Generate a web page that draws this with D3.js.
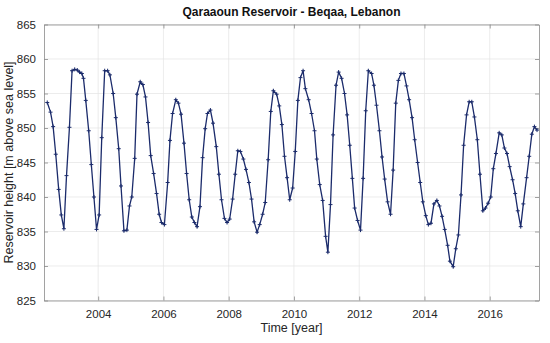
<!DOCTYPE html>
<html>
<head>
<meta charset="utf-8">
<script src="https://cdn.jsdelivr.net/npm/d3@7"></script>
<style>
  body { margin: 0; background: #fff; }
  svg { display: block; font-family: "Liberation Sans", Arial, Helvetica, sans-serif; }
  .tick text { fill: #262626; font-size: 11.5px; }
</style>
</head>
<body>
<div id="chart"></div>
<script>
// time of each reading (decimal year) and reservoir height [m a.s.l.]
var times = [
  2002.44, 2002.54, 2002.62, 2002.70, 2002.79, 2002.87, 2002.95, 2003.03, 2003.12, 2003.20,
  2003.28, 2003.36, 2003.43, 2003.50, 2003.55, 2003.62, 2003.71, 2003.79, 2003.87, 2003.95,
  2004.03, 2004.11, 2004.20, 2004.29, 2004.36, 2004.46, 2004.54, 2004.63, 2004.70, 2004.79,
  2004.88, 2004.96, 2005.03, 2005.12, 2005.19, 2005.29, 2005.37, 2005.45, 2005.53, 2005.61,
  2005.70, 2005.79, 2005.87, 2005.94, 2006.03, 2006.13, 2006.20, 2006.28, 2006.38, 2006.46,
  2006.54, 2006.63, 2006.71, 2006.79, 2006.87, 2006.95, 2007.03, 2007.12, 2007.20, 2007.28,
  2007.35, 2007.44, 2007.52, 2007.62, 2007.70, 2007.78, 2007.87, 2007.95, 2008.03, 2008.12,
  2008.20, 2008.28, 2008.36, 2008.45, 2008.53, 2008.62, 2008.70, 2008.78, 2008.87, 2008.95,
  2009.04, 2009.12, 2009.21, 2009.29, 2009.37, 2009.47, 2009.55, 2009.63, 2009.71, 2009.79,
  2009.87, 2009.96, 2010.04, 2010.12, 2010.20, 2010.28, 2010.35, 2010.45, 2010.54, 2010.63,
  2010.70, 2010.79, 2010.88, 2010.97, 2011.04, 2011.12, 2011.20, 2011.29, 2011.37, 2011.46,
  2011.55, 2011.63, 2011.71, 2011.79, 2011.86, 2011.95, 2012.04, 2012.12, 2012.20, 2012.28,
  2012.38, 2012.45, 2012.53, 2012.62, 2012.70, 2012.78, 2012.87, 2012.96, 2013.04, 2013.12,
  2013.20, 2013.28, 2013.37, 2013.45, 2013.53, 2013.62, 2013.70, 2013.79, 2013.87, 2013.95,
  2014.04, 2014.12, 2014.20, 2014.29, 2014.38, 2014.46, 2014.54, 2014.62, 2014.71, 2014.78,
  2014.88, 2014.96, 2015.04, 2015.12, 2015.20, 2015.29, 2015.37, 2015.45, 2015.53, 2015.62,
  2015.70, 2015.79, 2015.87, 2015.95, 2016.03, 2016.11, 2016.19, 2016.29, 2016.37, 2016.45,
  2016.53, 2016.61, 2016.70, 2016.78, 2016.86, 2016.95, 2017.03, 2017.13, 2017.21, 2017.29,
  2017.37, 2017.45
];
var heights = [
  853.7, 852.3, 850.2, 846.2, 841.1, 837.4, 835.4, 843.1, 850.1, 858.3,
  858.5, 858.4, 858.1, 857.9, 857.2, 854.0, 849.6, 844.7, 840.0, 835.3,
  837.4, 848.6, 858.3, 858.3, 857.7, 855.0, 851.5, 847.0, 841.6, 835.1,
  835.2, 838.7, 840.0, 845.6, 854.9, 856.7, 856.3, 854.5, 850.8, 846.0,
  843.4, 840.5, 837.5, 836.3, 836.0, 842.1, 848.2, 852.1, 854.1, 853.6,
  852.0, 847.8, 843.4, 839.6, 837.1, 836.3, 835.7, 838.6, 845.7, 849.9,
  852.1, 852.6, 850.7, 847.3, 843.3, 839.6, 836.9, 836.3, 836.8, 839.7,
  843.3, 846.7, 846.6, 845.5, 844.0, 842.1, 839.7, 836.4, 834.9, 836.0,
  837.5, 839.2, 845.4, 852.4, 855.4, 854.9, 853.2, 850.5, 845.9, 842.8,
  839.6, 841.3, 846.6, 854.0, 857.3, 858.3, 855.7, 854.1, 852.1, 849.6,
  845.5, 841.8, 839.5, 834.3, 832.0, 838.9, 849.0, 856.2, 858.1, 857.2,
  855.0, 851.9, 847.5, 842.7, 838.4, 836.6, 835.2, 842.7, 852.5, 858.3,
  857.9, 856.2, 853.3, 849.6, 845.8, 842.6, 839.3, 837.5, 843.9, 853.6,
  856.9, 857.9, 857.9, 856.1, 854.1, 851.5, 848.3, 845.0, 842.1, 839.3,
  837.3, 836.0, 836.2, 839.0, 839.5, 838.7, 837.2, 835.3, 833.0, 830.7,
  829.9, 832.5, 834.5, 840.3, 847.5, 851.9, 853.8, 853.8, 851.6, 848.3,
  843.3, 838.0, 838.4, 839.1, 840.0, 844.1, 846.3, 849.3, 849.0, 847.1,
  846.3, 844.4, 842.5, 840.5, 838.0, 835.7, 839.0, 842.8, 845.9, 849.1,
  850.2, 849.7
];
var xTicks = [2004, 2006, 2008, 2010, 2012, 2014, 2016];
var yTicks = [825, 830, 835, 840, 845, 850, 855, 860, 865];
var xRange = [2002.34, 2017.51];
var yRange = [825, 865];

var width = 550, height = 343;
var margin = {top: 24.5, right: 11, bottom: 42.5, left: 44};
var w = width - margin.left - margin.right;
var h = height - margin.top - margin.bottom;

var svg = d3.select("#chart").append("svg")
    .attr("width", width)
    .attr("height", height);

var g = svg.append("g")
    .attr("transform", `translate(${margin.left},${margin.top})`);

var x = d3.scaleLinear().domain(xRange).range([0, w]);
var y = d3.scaleLinear().domain(yRange).range([h, 0]);

// grid
g.append("g").selectAll("line")
    .data(xTicks)
    .enter().append("line")
    .attr("x1", d => x(d)).attr("x2", d => x(d))
    .attr("y1", 0).attr("y2", h)
    .attr("stroke", "#e4e4e4").attr("stroke-width", 0.7);

g.append("g").selectAll("line")
    .data(yTicks)
    .enter().append("line")
    .attr("x1", 0).attr("x2", w)
    .attr("y1", d => y(d)).attr("y2", d => y(d))
    .attr("stroke", "#e4e4e4").attr("stroke-width", 0.7);

// axes, ticks pointing inward like matlab
var bottomAxis = d3.axisBottom(x).tickValues(xTicks).tickFormat(d3.format("d")).tickSizeInner(-4).tickSizeOuter(0).tickPadding(9);
var topAxis = d3.axisTop(x).tickValues(xTicks).tickFormat("").tickSizeInner(-4).tickSizeOuter(0);
var leftAxis = d3.axisLeft(y).tickValues(yTicks).tickSizeInner(-4).tickSizeOuter(0).tickPadding(8);
var rightAxis = d3.axisRight(y).tickValues(yTicks).tickFormat("").tickSizeInner(-4).tickSizeOuter(0);

var axes = [
    g.append("g").attr("transform", `translate(0,${h})`).call(bottomAxis),
    g.append("g").call(topAxis),
    g.append("g").call(leftAxis),
    g.append("g").attr("transform", `translate(${w},0)`).call(rightAxis)
];
axes.forEach(a => {
    a.select(".domain").attr("stroke", "#8a8a8a").attr("stroke-width", 0.8);
    a.selectAll(".tick line").attr("stroke", "#8a8a8a").attr("stroke-width", 0.8);
});

// series
var pts = times.map((t, i) => [t, heights[i]]);

var line = d3.line()
    .x(d => x(d[0]))
    .y(d => y(d[1]));

g.append("path")
    .datum(pts)
    .attr("fill", "none")
    .attr("stroke", "#1b2b6b")
    .attr("stroke-width", 1.3)
    .attr("d", line);

g.selectAll(".mk")
    .data(pts)
    .enter().append("path")
    .attr("class", "mk")
    .attr("transform", d => `translate(${x(d[0])},${y(d[1])})`)
    .attr("d", "M-2,0H2M0,-2V2")
    .attr("stroke", "#1b2b6b")
    .attr("stroke-width", 1);

// labels
svg.append("text")
    .attr("x", margin.left + w / 2)
    .attr("y", 16)
    .attr("text-anchor", "middle")
    .attr("font-size", "12px")
    .attr("font-weight", "bold")
    .attr("fill", "#111")
    .text("Qaraaoun Reservoir - Beqaa, Lebanon");

svg.append("text")
    .attr("x", margin.left + w / 2)
    .attr("y", 332)
    .attr("text-anchor", "middle")
    .attr("font-size", "12.5px")
    .attr("fill", "#262626")
    .text("Time [year]");

svg.append("text")
    .attr("transform", `translate(13,${margin.top + h / 2}) rotate(-90)`)
    .attr("text-anchor", "middle")
    .attr("font-size", "12.5px")
    .attr("fill", "#262626")
    .text("Reservoir height [m above sea level]");
</script>
</body>
</html>
